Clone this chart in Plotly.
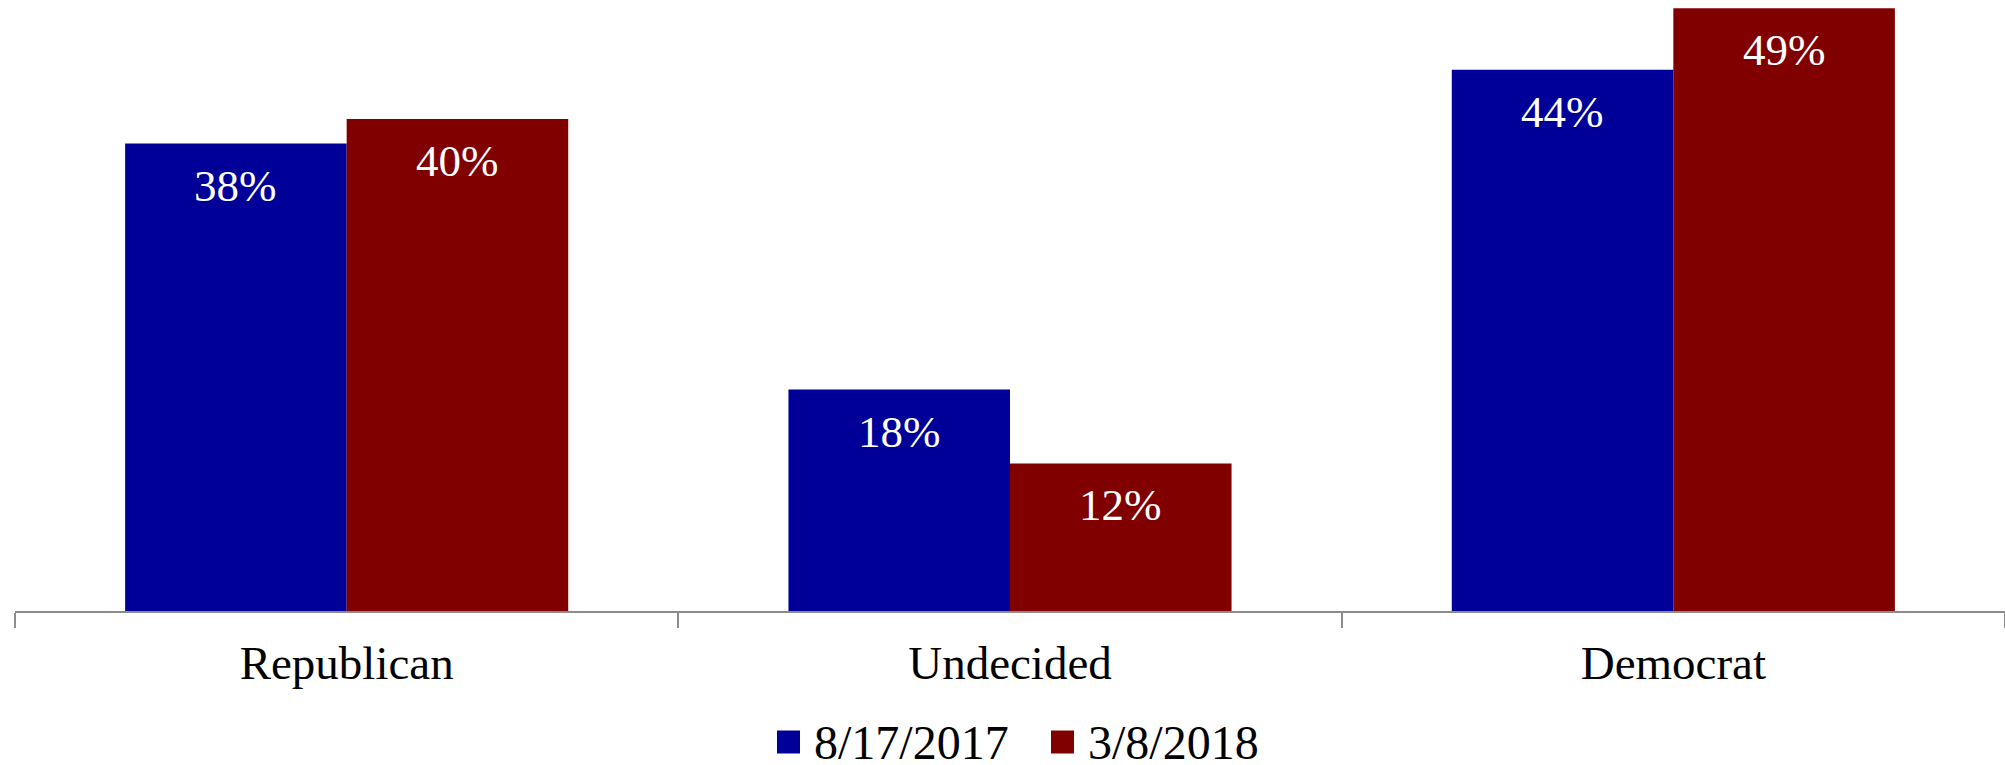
import plotly.graph_objects as go

# Party preference, two survey dates
categories = ["Republican", "Undecided", "Democrat"]
series_names = ["8/17/2017", "3/8/2018"]
values_2017 = [38, 18, 44]
values_2018 = [40, 12, 49]
colors = ["#000099", "#800000"]

W, H = 2005, 765
ML, MR, MT, MB = 15, 0, 0, 154
PLOT_W = W - ML - MR
PLOT_H = H - MT - MB
BARGAP = 0.332
PX_PER_PCT = 12.3
FONT = "Liberation Serif, Times New Roman, serif"


def px_to_paper(px, py):
    return (px - ML) / PLOT_W, (MT + PLOT_H - py) / PLOT_H


fig = go.Figure()

all_values = [values_2017, values_2018]
for name, vals, col in zip(series_names, all_values, colors):
    fig.add_trace(go.Bar(
        x=categories, y=vals, name=name,
        marker=dict(color=col, line=dict(width=0)),
        showlegend=False,
    ))

# value labels inside the bars, near the top
slot = PLOT_W / len(categories)
bar_w = slot * (1 - BARGAP) / len(series_names)
annotations = []
for j, vals in enumerate(all_values):
    for cat, v in zip(categories, vals):
        annotations.append(dict(
            x=cat, y=v, xref="x", yref="y",
            text=f"{v}%", showarrow=False,
            xshift=(j - 0.5) * bar_w, yshift=-42,
            yanchor="middle",
            font=dict(family=FONT, size=45, color="white"),
        ))

# legend drawn by hand so the swatches match the size of the original
shapes = []
legend_items = [(777, 813), (1051, 1087)]
sq = 23
cy = 742
for (sx, tx), name, col in zip(legend_items, series_names, colors):
    x0, y0 = px_to_paper(sx, cy + sq / 2)
    x1, y1 = px_to_paper(sx + sq, cy - sq / 2)
    shapes.append(dict(type="rect", xref="paper", yref="paper",
                       x0=x0, y0=y0, x1=x1, y1=y1,
                       fillcolor=col, line=dict(width=0)))
    ax, ay = px_to_paper(tx, cy)
    annotations.append(dict(
        x=ax, y=ay, xref="paper", yref="paper",
        text=name, showarrow=False, borderpad=0,
        xanchor="left", yanchor="middle",
        font=dict(family=FONT, size=48, color="black"),
    ))

fig.update_layout(
    width=W, height=H,
    margin=dict(l=ML, r=MR, t=MT, b=MB),
    paper_bgcolor="white",
    plot_bgcolor="white",
    barmode="group",
    bargap=BARGAP,
    bargroupgap=0,
    showlegend=False,
    annotations=annotations,
    shapes=shapes,
    font=dict(family=FONT, color="black"),
    xaxis=dict(
        showline=True, linecolor="#8c8c8c", linewidth=2,
        ticks="outside", tickson="boundaries", ticklen=15,
        tickcolor="#8c8c8c", tickwidth=2,
        tickfont=dict(family=FONT, size=47, color="black"),
        ticklabelstandoff=10,
        showgrid=False,
    ),
    yaxis=dict(
        range=[0, PLOT_H / PX_PER_PCT],
        visible=False, showgrid=False, zeroline=False,
    ),
)

# drop the browser's default body margin so the chart sits at the page corner
fig.write_html("out.html", config={"displayModeBar": False},
               post_script="document.body.style.margin = '0';")
